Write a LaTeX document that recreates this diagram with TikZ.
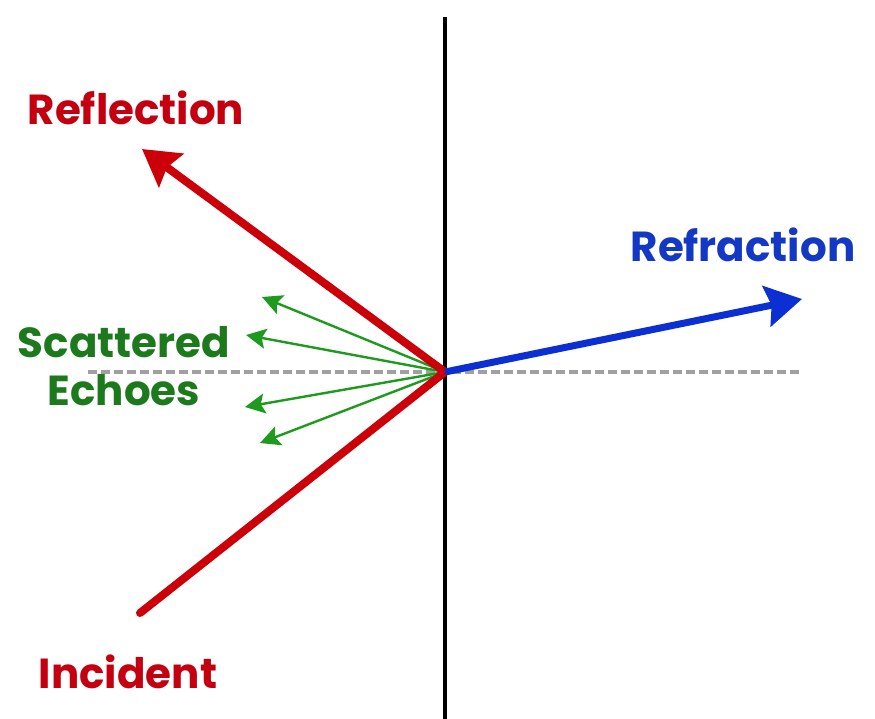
\documentclass[tikz,border=0pt]{standalone}
\usepackage{fontspec}
\setmainfont{Poppins}[BoldFont={Poppins Bold}]
\usetikzlibrary{arrows.meta}
\definecolor{rayred}{HTML}{CC0008}
\definecolor{txtred}{HTML}{C40010}
\definecolor{rayblue}{HTML}{0B2FD2}
\definecolor{txtblue}{HTML}{1238C4}
\definecolor{raygreen}{HTML}{1E9A1E}
\definecolor{txtgreen}{HTML}{1C7A1C}
\definecolor{dashgray}{HTML}{A0A0A0}
\tikzset{
  lbl/.style={font=\bfseries\fontsize{42}{48}\selectfont, inner sep=0pt, align=center},
  bigray/.style={line width=8pt},
  bighead/.style={-{Stealth[length=36pt,width=41pt,inset=5pt]}},
  echo/.style={raygreen, line width=2.4pt, -{Stealth[length=20pt,width=20pt,inset=4pt]}},
  normalline/.style={dashgray, line width=3.5pt, dash pattern=on 9pt off 4pt},
  boundary/.style={black, line width=4pt}
}
\begin{document}
\begin{tikzpicture}[x=1pt,y=-1pt]
\useasboundingbox (0,0) rectangle (875,719);
% reference points
\coordinate (O) at (445,372);
\coordinate (btop) at (445,17);
\coordinate (bbot) at (445,719);
\coordinate (nl) at (88,372);
\coordinate (nr) at (800,372);
\coordinate (inc) at (140,613);
\coordinate (refl) at (142,149);
\coordinate (refr) at (802,299);
\coordinate (e1) at (262,297);
\coordinate (e2) at (246,335);
\coordinate (e3) at (245,407);
\coordinate (e4) at (260,443);
% lines
\draw[normalline] (nl) -- (nr);
% labels
\node[lbl, txtred] (Lrefl) at (136,108) {Reflection};
\node[lbl, txtblue] (Lrefr) at (743,245) {Refraction};
\node[lbl, txtgreen] (Lecho) at (124,366) {Scattered\\Echoes};
\node[lbl, txtred] (Linc) at (128,672) {Incident};
\draw[boundary] (btop) -- (bbot);
\draw[echo] (O) -- (e1);
\draw[echo] (O) -- (e2);
\draw[echo] (O) -- (e3);
\draw[echo] (O) -- (e4);
\draw[rayred, bigray, line cap=round] (inc) -- (O);
\draw[rayred, bigray, bighead] (O) -- (refl);
\draw[rayblue, line width=7pt, bighead] (O) -- (refr);
\end{tikzpicture}
\end{document}
